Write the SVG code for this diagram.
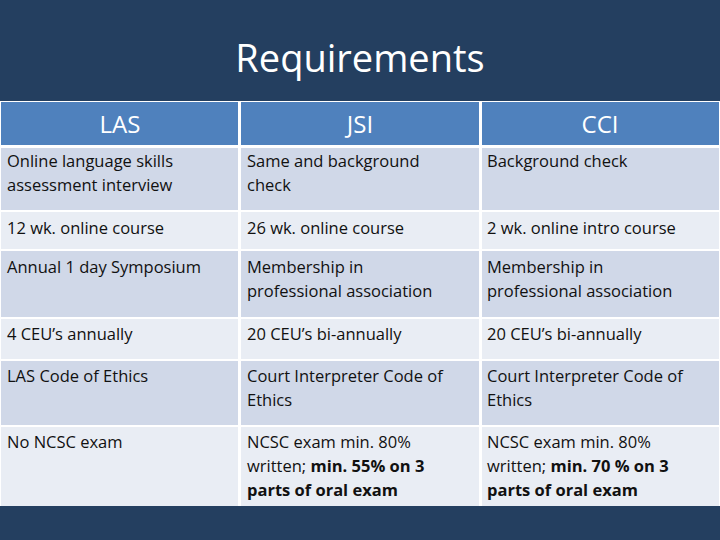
<svg xmlns="http://www.w3.org/2000/svg" width="720" height="540" viewBox="0 0 720 540">
<style>
.t{font-family:"Open Sans","Liberation Sans",sans-serif;font-size:16.5px;fill:#111}
.h{font-family:"Open Sans","Liberation Sans",sans-serif;font-size:24px;fill:#fff;text-anchor:middle}
.b{font-weight:bold}
.d{fill:#D0D8E8}.l{fill:#E9EDF4}
</style>
<rect width="720" height="540" fill="#243F60"/>
<text x="360" y="72" text-anchor="middle" font-family="Open Sans, Liberation Sans, sans-serif" font-size="38" fill="#fff">Requirements</text>
<g id="table">
<rect x="0" y="101" width="720" height="405" fill="#fff"/>
<g id="header">
<rect x="1" y="102" width="237" height="43" fill="#4F81BD"/>
<rect x="241" y="102" width="238" height="43" fill="#4F81BD"/>
<rect x="482" y="102" width="237" height="43" fill="#4F81BD"/>
<text class="h" x="120" y="133">LAS</text>
<text class="h" x="360" y="133">JSI</text>
<text class="h" x="600" y="133">CCI</text>
</g>
<g id="rows">
<rect class="d" x="1" y="148" width="237" height="62"/><rect class="d" x="241" y="148" width="238" height="62"/><rect class="d" x="482" y="148" width="237" height="62"/>
<rect class="l" x="1" y="212" width="237" height="37"/><rect class="l" x="241" y="212" width="238" height="37"/><rect class="l" x="482" y="212" width="237" height="37"/>
<rect class="d" x="1" y="251" width="237" height="66"/><rect class="d" x="241" y="251" width="238" height="66"/><rect class="d" x="482" y="251" width="237" height="66"/>
<rect class="l" x="1" y="319" width="237" height="40"/><rect class="l" x="241" y="319" width="238" height="40"/><rect class="l" x="482" y="319" width="237" height="40"/>
<rect class="d" x="1" y="361" width="237" height="64"/><rect class="d" x="241" y="361" width="238" height="64"/><rect class="d" x="482" y="361" width="237" height="64"/>
<rect class="l" x="1" y="427" width="237" height="79"/><rect class="l" x="241" y="427" width="238" height="79"/><rect class="l" x="482" y="427" width="237" height="79"/>
</g>
<g id="cells">
<text class="t" x="7" y="167">Online language skills</text><text class="t" x="7" y="191">assessment interview</text>
<text class="t" x="247" y="167">Same and background</text><text class="t" x="247" y="191">check</text>
<text class="t" x="487" y="167">Background check</text>
<text class="t" x="7" y="234">12 wk. online course</text>
<text class="t" x="247" y="234">26 wk. online course</text>
<text class="t" x="487" y="234">2 wk. online intro course</text>
<text class="t" x="7" y="273">Annual 1 day Symposium</text>
<text class="t" x="247" y="273">Membership in</text><text class="t" x="247" y="297">professional association</text>
<text class="t" x="487" y="273">Membership in</text><text class="t" x="487" y="297">professional association</text>
<text class="t" x="7" y="340">4 CEU’s annually</text>
<text class="t" x="247" y="340">20 CEU’s bi-annually</text>
<text class="t" x="487" y="340">20 CEU’s bi-annually</text>
<text class="t" x="7" y="382">LAS Code of Ethics</text>
<text class="t" x="247" y="382">Court Interpreter Code of</text><text class="t" x="247" y="406">Ethics</text>
<text class="t" x="487" y="382">Court Interpreter Code of</text><text class="t" x="487" y="406">Ethics</text>
<text class="t" x="7" y="448">No NCSC exam</text>
<text class="t" x="247" y="448">NCSC exam min. 80%</text><text class="t" x="247" y="472">written; <tspan class="b">min. 55% on 3</tspan></text><text class="t b" x="247" y="496">parts of oral exam</text>
<text class="t" x="487" y="448">NCSC exam min. 80%</text><text class="t" x="487" y="472">written; <tspan class="b">min. 70 % on 3</tspan></text><text class="t b" x="487" y="496">parts of oral exam</text>
</g>
</g>
</svg>
